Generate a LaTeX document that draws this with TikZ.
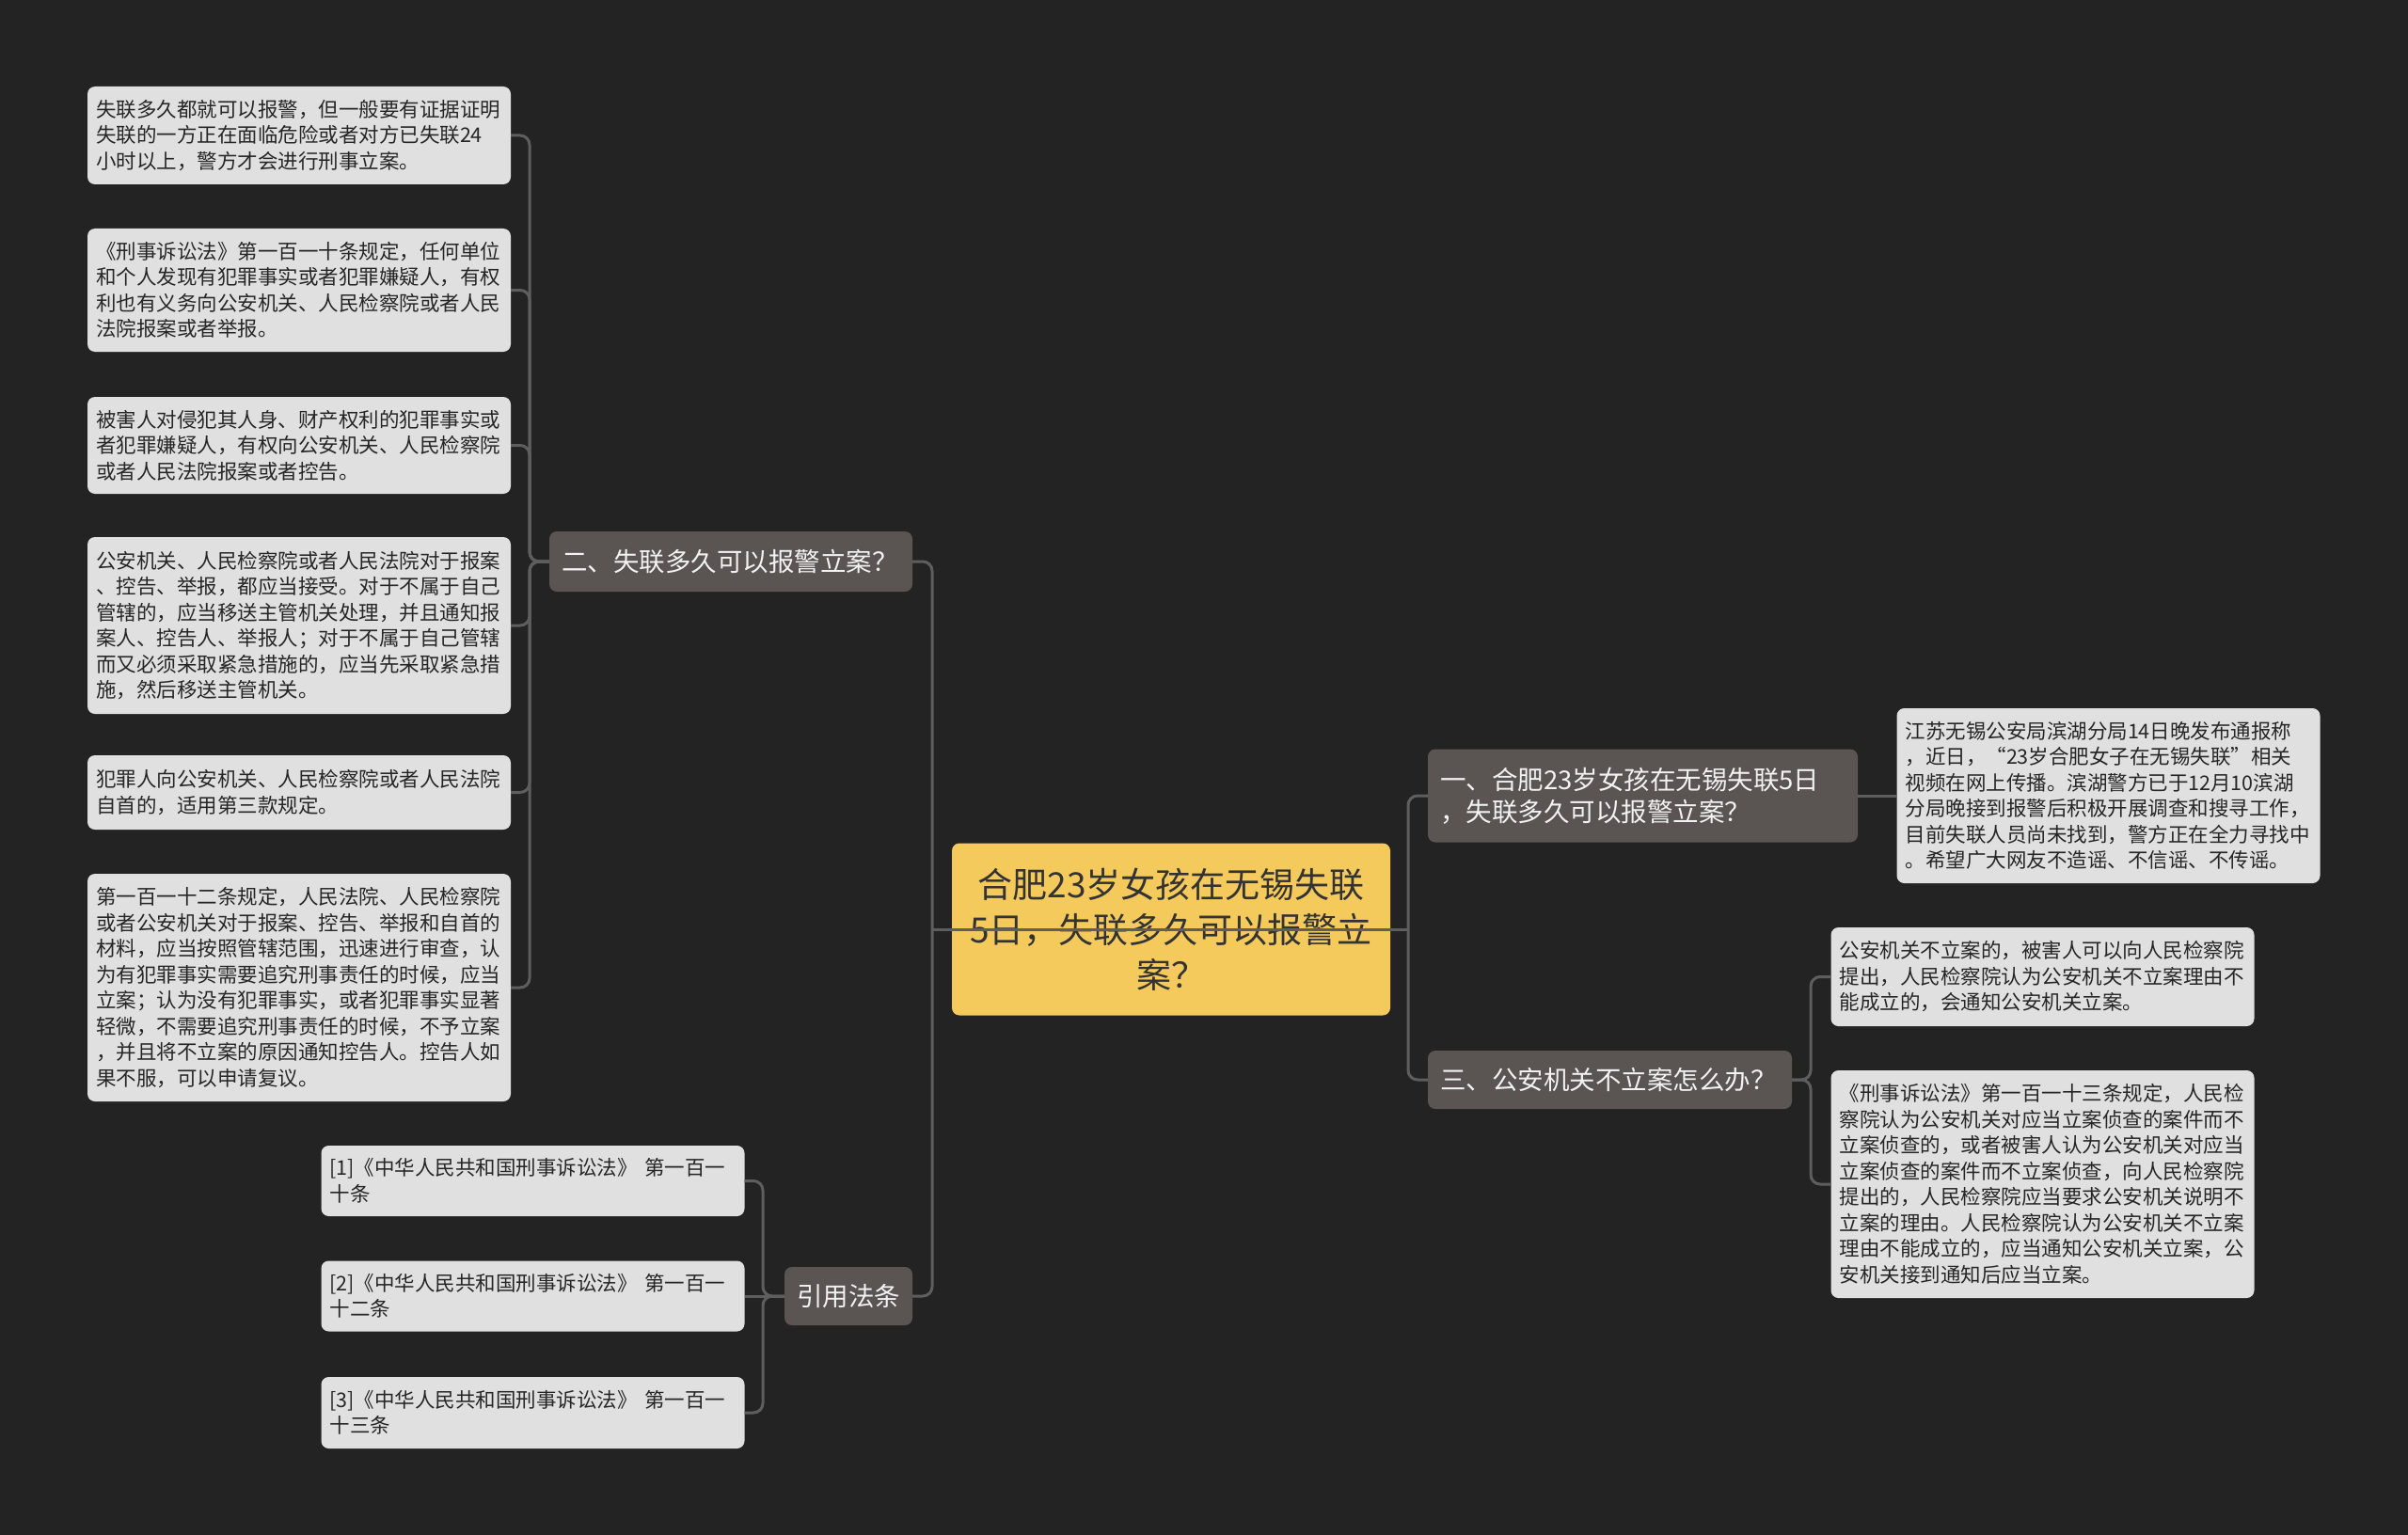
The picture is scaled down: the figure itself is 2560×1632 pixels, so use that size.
\documentclass[tikz,border=0pt]{standalone}
\usepackage{fontspec}
\setmainfont{Noto Sans CJK SC}
\definecolor{bgc}{HTML}{232323}
\definecolor{linec}{HTML}{5E5E5E}
\definecolor{leafc}{HTML}{E0E0E0}
\definecolor{leaftext}{HTML}{262626}
\definecolor{midc}{HTML}{5A5552}
\definecolor{midtext}{HTML}{F2F2F2}
\definecolor{rootc}{HTML}{F5CA5C}
\definecolor{roottext}{HTML}{333333}
\begin{document}
\begin{tikzpicture}[x=1pt,y=-1pt,
  conn/.style={draw=linec, line width=3pt, rounded corners=10pt},
  leaf/.style={fill=leafc, rounded corners=8pt, text=leaftext, align=left,
    text width=432pt, inner xsep=9pt, inner ysep=0pt,
    font=\fontsize{21.5pt}{27.5pt}\selectfont},
  mid/.style={fill=midc, rounded corners=8pt, text=midtext, align=left,
    inner xsep=13pt, inner ysep=0pt,
    font=\fontsize{27.5pt}{34pt}\selectfont},
  rootbox/.style={fill=rootc, rounded corners=8pt, text=roottext, align=center,
    text width=440pt, inner xsep=13pt, inner ysep=0pt,
    font=\fontsize{37pt}{48pt}\selectfont}
]
\useasboundingbox (0,0) rectangle (2560,1632);
\fill[bgc] (0,0) rectangle (2560,1632);

% root
\node[rootbox, minimum height=183pt] (root) at (1245,988)
  {合肥23岁女孩在无锡失联\\5日，失联多久可以报警立\\案？};

% main branches
\node[mid, text width=360pt, minimum height=64pt] (n2) at (777,597)
  {二、失联多久可以报警立案？};
\node[mid, text width=110pt, minimum height=62pt] (ref) at (902,1378)
  {引用法条};
\node[mid, text width=431pt, minimum height=99pt] (n1) at (1746.5,846)
  {一、合肥23岁女孩在无锡失联5日\\，失联多久可以报警立案？};
\node[mid, text width=361pt, minimum height=62pt] (n3) at (1711.5,1148)
  {三、公安机关不立案怎么办？};

% left leaves
\node[leaf, minimum height=104pt] (L1) at (318,144)
  {失联多久都就可以报警，但一般要有证据证明\\失联的一方正在面临危险或者对方已失联24\\小时以上，警方才会进行刑事立案。};
\node[leaf, minimum height=131pt] (L2) at (318,308.5)
  {《刑事诉讼法》第一百一十条规定，任何单位\\和个人发现有犯罪事实或者犯罪嫌疑人，有权\\利也有义务向公安机关、人民检察院或者人民\\法院报案或者举报。};
\node[leaf, minimum height=103pt] (L3) at (318,473.5)
  {被害人对侵犯其人身、财产权利的犯罪事实或\\者犯罪嫌疑人，有权向公安机关、人民检察院\\或者人民法院报案或者控告。};
\node[leaf, minimum height=188pt] (L4) at (318,665)
  {公安机关、人民检察院或者人民法院对于报案\\、控告、举报，都应当接受。对于不属于自己\\管辖的，应当移送主管机关处理，并且通知报\\案人、控告人、举报人；对于不属于自己管辖\\而又必须采取紧急措施的，应当先采取紧急措\\施，然后移送主管机关。};
\node[leaf, minimum height=79pt] (L5) at (318,842.5)
  {犯罪人向公安机关、人民检察院或者人民法院\\自首的，适用第三款规定。};
\node[leaf, minimum height=242pt] (L6) at (318,1050)
  {第一百一十二条规定，人民法院、人民检察院\\或者公安机关对于报案、控告、举报和自首的\\材料，应当按照管辖范围，迅速进行审查，认\\为有犯罪事实需要追究刑事责任的时候，应当\\立案；认为没有犯罪事实，或者犯罪事实显著\\轻微，不需要追究刑事责任的时候，不予立案\\，并且将不立案的原因通知控告人。控告人如\\果不服，可以申请复议。};

% reference leaves
\node[leaf, minimum height=75pt] (F1) at (566.5,1255.5)
  {[1]《中华人民共和国刑事诉讼法》 第一百一\\十条};
\node[leaf, minimum height=75pt] (F2) at (566.5,1378)
  {[2]《中华人民共和国刑事诉讼法》 第一百一\\十二条};
\node[leaf, minimum height=76pt] (F3) at (566.5,1502)
  {[3]《中华人民共和国刑事诉讼法》 第一百一\\十三条};

% right leaves
\node[leaf, minimum height=186pt] (R1) at (2241.5,846)
  {江苏无锡公安局滨湖分局14日晚发布通报称\\，近日，“23岁合肥女子在无锡失联”相关\\视频在网上传播。滨湖警方已于12月10滨湖\\分局晚接到报警后积极开展调查和搜寻工作，\\目前失联人员尚未找到，警方正在全力寻找中\\。希望广大网友不造谣、不信谣、不传谣。};
\node[leaf, minimum height=105pt] (RA) at (2171.5,1038.5)
  {公安机关不立案的，被害人可以向人民检察院\\提出，人民检察院认为公安机关不立案理由不\\能成立的，会通知公安机关立案。};
\node[leaf, minimum height=242pt] (RB) at (2171.5,1259)
  {《刑事诉讼法》第一百一十三条规定，人民检\\察院认为公安机关对应当立案侦查的案件而不\\立案侦查的，或者被害人认为公安机关对应当\\立案侦查的案件而不立案侦查，向人民检察院\\提出的，人民检察院应当要求公安机关说明不\\立案的理由。人民检察院认为公安机关不立案\\理由不能成立的，应当通知公安机关立案，公\\安机关接到通知后应当立案。};

% branch points
\coordinate (lt) at (991,988);
\coordinate (rt) at (1497,988);
\coordinate (b2) at (563,597);
\coordinate (bref) at (811,1378);
\coordinate (b3) at (1925,1148);

% connectors
\draw[conn] (lt) -- (rt);
\draw[conn] (lt) |- (n2.east);
\draw[conn] (lt) |- (ref.east);
\draw[conn] (rt) |- (n1.west);
\draw[conn] (rt) |- (n3.west);
\foreach \l in {L1,L2,L3,L4,L5,L6}{
  \draw[conn] (n2.west) -- (b2) |- (\l.east);
}
\foreach \l in {F1,F3}{
  \draw[conn] (ref.west) -- (bref) |- (\l.east);
}
\draw[conn] (ref.west) -- (F2.east);
\draw[conn] (n1.east) -- (R1.west);
\draw[conn] (n3.east) -- (b3) |- (RA.west);
\draw[conn] (n3.east) -- (b3) |- (RB.west);
\end{tikzpicture}
\end{document}
